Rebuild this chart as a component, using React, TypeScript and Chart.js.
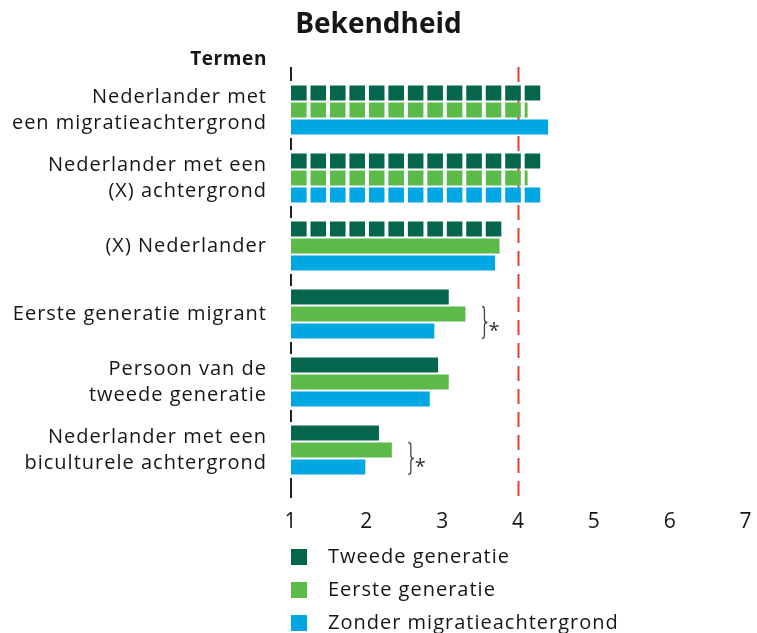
import React, { useEffect, useRef } from "react";
import { Chart, registerables } from "chart.js";

Chart.register(...registerables);

const TITLE = "Bekendheid";
const AXIS_HEADER = "Termen";

const categories: string[][] = [
  ["Nederlander met", "een migratieachtergrond"],
  ["Nederlander met een", "(X) achtergrond"],
  ["(X) Nederlander"],
  ["Eerste generatie migrant"],
  ["Persoon van de", "tweede generatie"],
  ["Nederlander met een", "biculturele achtergrond"],
];

const seriesNames = ["Tweede generatie", "Eerste generatie", "Zonder migratieachtergrond"];

const tweedeGeneratie = [4.3, 4.3, 3.79, 3.08, 2.94, 2.16];
const eersteGeneratie = [4.12, 4.12, 3.75, 3.3, 3.08, 2.33];
const zonderMigratie = [4.39, 4.31, 3.69, 2.89, 2.83, 1.98];

const tweedePatterned = [true, true, true, false, false, false];
const eerstePatterned = [true, true, false, false, false, false];
const zonderPatterned = [false, true, false, false, false, false];

const significant = [false, false, false, true, false, true];

const xMin = 1;
const xMax = 7;
const referenceValue = 4;

const seriesColors = ["#04664d", "#5bba48", "#00a7e2"];

const FONT = '"Open Sans", sans-serif';
const TEXT = "#161616";
const SPACING = "1px";

export default function App() {
  const canvasRef = useRef<HTMLCanvasElement | null>(null);

  useEffect(() => {
    const canvas = canvasRef.current;
    if (!canvas) return;
    const ctx0 = canvas.getContext("2d")!;

    const PATTERN_SCALE = 19.47 / 20;
    const makePattern = (color: string) => {
      const tile = document.createElement("canvas");
      tile.width = 20;
      tile.height = 20;
      const t = tile.getContext("2d")!;
      t.fillStyle = color;
      t.fillRect(0, 0, 16, 20);
      return ctx0.createPattern(tile, "repeat")!;
    };
    const patterns = seriesColors.map(makePattern);

    const seriesValues = [tweedeGeneratie, eersteGeneratie, zonderMigratie];
    const patternFlags = [tweedePatterned, eerstePatterned, zonderPatterned];

    const datasets = seriesValues.map((vals, k) => ({
      label: seriesNames[k],
      data: vals,
      base: xMin,
      backgroundColor: vals.map((_, i) => (patternFlags[k][i] ? patterns[k] : seriesColors[k])),
      legendColor: seriesColors[k],
      borderWidth: 0,
      categoryPercentage: 0.75,
      barPercentage: 0.88,
    }));

    const spacingPlugin = {
      id: "spacing",
      beforeLayout(chart: any) {
        (chart.ctx as any).letterSpacing = SPACING;
      },
      beforeDraw(chart: any) {
        (chart.ctx as any).letterSpacing = SPACING;
      },
    };

    const decor = {
      id: "decor",
      beforeDatasetsDraw(chart: any) {
        const { ctx, chartArea, scales } = chart;
        patterns.forEach((p) => {
          p.setTransform(new DOMMatrix([PATTERN_SCALE, 0, 0, 1, chartArea.left, 0]));
        });
        // reference line
        const rx = scales.x.getPixelForValue(referenceValue);
        ctx.save();
        ctx.strokeStyle = "#f03a3a";
        ctx.lineWidth = 2;
        ctx.setLineDash([15, 8]);
        ctx.beginPath();
        ctx.moveTo(rx, chartArea.top - 9);
        ctx.lineTo(rx, chartArea.bottom + 13);
        ctx.stroke();
        ctx.restore();
        // dashed start axis (segments at category boundaries)
        const y = scales.y;
        const n = categories.length;
        const step = n > 1 ? y.getPixelForValue(1) - y.getPixelForValue(0) : 0;
        ctx.save();
        ctx.strokeStyle = "#222";
        ctx.lineWidth = 2;
        const ax = scales.x.getPixelForValue(xMin);
        for (let i = 0; i <= n; i++) {
          const by = y.getPixelForValue(0) - step / 2 + i * step;
          let y1 = by - 6;
          let y2 = by + 6;
          if (i === 0) {
            y1 = by - 9;
            y2 = by + 5;
          }
          if (i === n) {
            y1 = by - 6;
            y2 = by + 14;
          }
          ctx.beginPath();
          ctx.moveTo(ax, y1);
          ctx.lineTo(ax, y2);
          ctx.stroke();
        }
        ctx.restore();
      },
      afterDatasetsDraw(chart: any) {
        const { ctx } = chart;
        ctx.save();
        significant.forEach((sig, i) => {
          if (!sig) return;
          const light = chart.getDatasetMeta(1).data[i] as any;
          const blue = chart.getDatasetMeta(2).data[i] as any;
          const y1 = light.y - light.height / 2;
          const y2 = blue.y + blue.height / 2;
          const ym = (y1 + y2) / 2;
          const bx = light.x + 19;
          ctx.strokeStyle = "#444";
          ctx.lineWidth = 1.3;
          ctx.beginPath();
          ctx.moveTo(bx - 2.5, y1);
          ctx.quadraticCurveTo(bx, y1, bx, y1 + 3);
          ctx.lineTo(bx, ym - 3);
          ctx.quadraticCurveTo(bx, ym, bx + 3, ym);
          ctx.quadraticCurveTo(bx, ym, bx, ym + 3);
          ctx.lineTo(bx, y2 - 3);
          ctx.quadraticCurveTo(bx, y2, bx - 2.5, y2);
          ctx.stroke();
          ctx.fillStyle = "#333";
          ctx.font = `20px ${FONT}`;
          ctx.textAlign = "left";
          ctx.textBaseline = "alphabetic";
          ctx.fillText("*", bx + 4, ym + 14);
        });
        ctx.restore();
      },
      afterDraw(chart: any) {
        const { ctx, chartArea, width } = chart;
        ctx.save();
        // title
        ctx.fillStyle = TEXT;
        ctx.letterSpacing = "0px";
        ctx.font = `bold 28px ${FONT}`;
        ctx.textAlign = "center";
        ctx.textBaseline = "middle";
        ctx.fillText(TITLE, width / 2, 25);
        // axis header
        ctx.letterSpacing = "0.6px";
        ctx.font = `bold 19px ${FONT}`;
        ctx.textAlign = "right";
        ctx.fillText(AXIS_HEADER, chartArea.left - 24, 60);
        // legend
        ctx.letterSpacing = SPACING;
        ctx.font = `20px ${FONT}`;
        ctx.textAlign = "left";
        chart.data.datasets.forEach((ds: any, i: number) => {
          const top = chartArea.bottom + 65 + i * 33;
          ctx.fillStyle = ds.legendColor;
          ctx.fillRect(chartArea.left, top, 16, 16);
          ctx.fillStyle = TEXT;
          ctx.fillText(ds.label, chartArea.left + 37, top + 8);
        });
        ctx.restore();
      },
    };

    const chart = new Chart(canvas, {
      type: "bar",
      data: { labels: categories, datasets: datasets as any },
      plugins: [spacingPlugin, decor],
      options: {
        indexAxis: "y",
        animation: false,
        responsive: true,
        maintainAspectRatio: false,
        layout: { padding: { top: 76, right: 11, bottom: 99, left: 0 } },
        plugins: {
          legend: { display: false },
          title: { display: false },
          tooltip: { enabled: false },
        },
        scales: {
          x: {
            type: "linear",
            min: xMin,
            max: xMax,
            grid: { display: false, drawTicks: false },
            border: { display: false },
            ticks: { stepSize: 1, color: TEXT, font: { family: FONT, size: 21 }, padding: 25 },
            afterFit: (s: any) => {
              s.height = 50;
              s.paddingRight = 0;
              s.paddingLeft = 0;
            },
          },
          y: {
            type: "category",
            grid: { display: false, drawTicks: false },
            border: { display: false },
            ticks: {
              color: TEXT,
              autoSkip: false,
              font: { family: FONT, size: 20, lineHeight: 1.3 },
              padding: 24,
            },
            afterFit: (s: any) => {
              s.width = 291;
            },
          },
        },
      } as any,
    });

    return () => chart.destroy();
  }, []);

  return (
    <div style={{ position: "absolute", left: 0, top: 0, width: 757, height: 633 }}>
      <canvas ref={canvasRef} />
    </div>
  );
}
